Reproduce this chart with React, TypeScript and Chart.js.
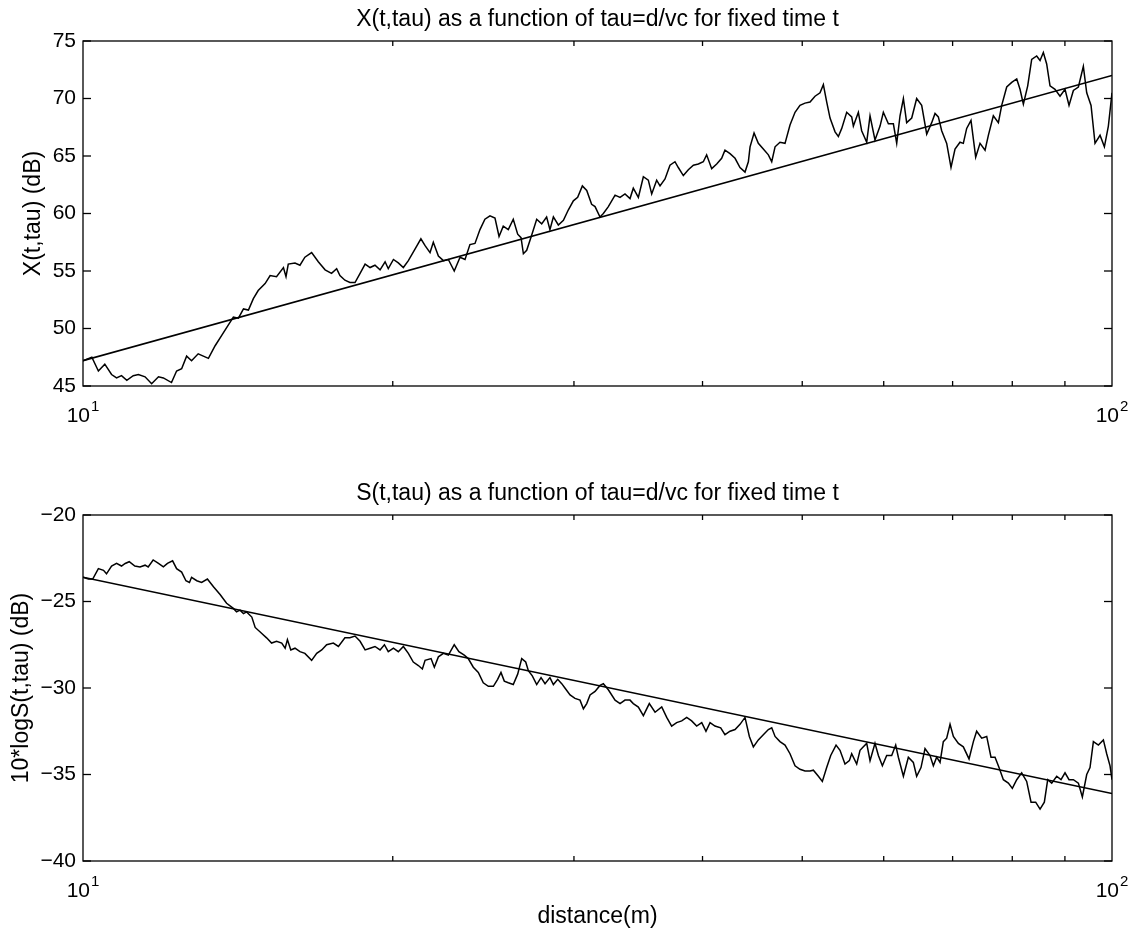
import React, { useEffect, useRef } from 'react';
import { Chart, registerables } from 'chart.js';

Chart.register(...registerables);

const FONT = '"Liberation Sans", Arial, Helvetica, sans-serif';

// X(t,tau) in dB versus distance d (m)
const xDistance = [
  10.0, 10.2, 10.35, 10.5, 10.66, 10.78, 10.9, 11.03, 11.19, 11.32, 11.49, 11.66, 11.84, 11.97, 12.19, 12.33,
  12.47, 12.61, 12.75, 12.94, 13.24, 13.44, 13.64, 13.84, 14.0, 14.16, 14.32, 14.48, 14.64, 14.8, 15.03, 15.2,
  15.42, 15.66, 15.75, 15.83, 16.07, 16.25, 16.43, 16.68, 16.93, 17.19, 17.44, 17.64, 17.77, 17.97, 18.17, 18.38,
  18.59, 18.8, 19.01, 19.22, 19.44, 19.66, 19.8, 20.03, 20.25, 20.48, 20.71, 21.02, 21.3, 21.5, 21.74, 21.9,
  22.15, 22.4, 22.65, 22.95, 23.25, 23.51, 23.77, 24.04, 24.31, 24.58, 24.86, 25.14, 25.37, 25.61, 25.9, 26.19,
  26.45, 26.65, 26.79, 26.99, 27.29, 27.6, 27.91, 28.22, 28.43, 28.65, 28.97, 29.3, 29.62, 29.96, 30.25, 30.57,
  30.87, 31.21, 31.45, 31.8, 32.04, 32.4, 32.89, 33.26, 33.63, 34.01, 34.26, 34.65, 35.04, 35.43, 35.7, 36.1,
  36.37, 36.78, 37.19, 37.61, 37.89, 38.32, 38.75, 39.19, 39.63, 40.07, 40.37, 40.83, 41.29, 41.75, 42.06, 42.54,
  43.02, 43.5, 43.99, 44.32, 44.49, 44.89, 45.32, 45.83, 46.35, 46.7, 47.05, 47.57, 48.11, 48.65, 49.2, 49.75,
  50.31, 50.88, 51.45, 52.03, 52.42, 52.81, 53.21, 53.81, 54.21, 54.62, 55.23, 55.85, 56.06, 56.69, 57.11, 57.76,
  58.19, 58.84, 59.51, 59.95, 60.63, 61.31, 61.77, 62.23, 62.7, 63.16, 63.88, 64.59, 65.32, 66.06, 66.8, 67.3,
  67.8, 68.31, 69.08, 69.75, 70.38, 71.17, 71.7, 72.24, 72.94, 73.71, 74.43, 75.27, 75.83, 76.68, 77.55, 78.13,
  79.01, 79.9, 80.8, 81.4, 82.01, 82.81, 83.55, 84.49, 85.13, 85.76, 86.4, 87.05, 88.03, 89.02, 90.02, 90.83,
  91.72, 92.75, 93.79, 94.5, 95.42, 96.27, 97.36, 98.31, 99.19, 100.0,
];
const xLevel = [
  47.2, 47.5, 46.3, 46.9, 46.0, 45.7, 45.9, 45.5, 45.9, 46.0, 45.8, 45.2, 45.8, 45.7, 45.3, 46.3,
  46.5, 47.6, 47.2, 47.8, 47.4, 48.5, 49.4, 50.3, 51.0, 50.9, 51.7, 51.6, 52.6, 53.3, 53.9, 54.6,
  54.5, 55.3, 54.5, 55.6, 55.7, 55.5, 56.2, 56.6, 55.8, 55.1, 54.8, 55.2, 54.6, 54.2, 54.0, 54.0,
  54.8, 55.6, 55.3, 55.5, 55.1, 55.8, 55.2, 56.0, 55.7, 55.3, 55.9, 56.9, 57.8, 57.2, 56.6, 57.5,
  56.3, 55.9, 56.0, 55.0, 56.2, 56.0, 57.3, 57.4, 58.6, 59.5, 59.8, 59.6, 58.0, 58.9, 58.6, 59.5,
  58.2, 57.9, 56.5, 56.8, 58.1, 59.5, 59.1, 59.7, 58.6, 59.7, 59.0, 59.4, 60.3, 61.1, 61.4, 62.4,
  62.0, 60.8, 60.6, 59.7, 60.0, 60.6, 61.6, 61.4, 61.7, 61.3, 62.2, 61.4, 63.2, 62.9, 61.7, 62.9,
  62.4, 63.0, 64.2, 64.5, 64.0, 63.3, 63.8, 64.2, 64.3, 64.5, 65.1, 63.9, 64.3, 64.8, 65.5, 65.2,
  64.8, 64.0, 63.6, 64.5, 65.8, 67.0, 66.1, 65.6, 65.1, 64.5, 65.8, 66.2, 66.1, 67.7, 68.8, 69.4,
  69.6, 69.7, 70.2, 70.5, 71.2, 69.7, 68.3, 67.1, 66.7, 67.4, 68.8, 68.4, 67.6, 68.8, 67.2, 66.2,
  68.5, 66.4, 67.6, 68.8, 67.8, 67.8, 66.1, 68.5, 70.0, 67.9, 68.3, 70.0, 69.4, 66.9, 67.9, 68.7,
  68.4, 67.2, 66.1, 64.0, 65.6, 66.2, 66.1, 67.4, 68.1, 64.9, 66.1, 65.5, 66.8, 68.5, 67.9, 69.4,
  71.0, 71.4, 71.7, 70.8, 69.5, 71.1, 73.4, 73.7, 73.3, 74.0, 73.0, 71.1, 70.8, 70.2, 70.8, 69.4,
  70.7, 71.0, 72.8, 70.5, 69.4, 66.1, 66.8, 65.8, 67.6, 70.5,
];

// 10*log S(t,tau) in dB versus distance d (m)
const sDistance = [
  10.0, 10.12, 10.22, 10.35, 10.47, 10.54, 10.66, 10.78, 10.9, 10.99, 11.09, 11.23, 11.36, 11.49, 11.57, 11.7,
  11.84, 11.97, 12.08, 12.22, 12.33, 12.47, 12.59, 12.69, 12.75, 12.9, 13.04, 13.21, 13.39, 13.59, 13.79, 14.0,
  14.1, 14.21, 14.32, 14.42, 14.59, 14.7, 14.92, 15.08, 15.25, 15.42, 15.6, 15.72, 15.8, 15.92, 16.07, 16.25,
  16.43, 16.68, 16.87, 17.06, 17.25, 17.51, 17.71, 17.97, 18.17, 18.38, 18.59, 18.8, 19.01, 19.22, 19.44, 19.63,
  19.8, 20.03, 20.25, 20.48, 20.71, 20.94, 21.18, 21.37, 21.5, 21.79, 21.95, 22.15, 22.4, 22.65, 22.95, 23.19,
  23.47, 23.68, 23.95, 24.22, 24.49, 24.77, 25.05, 25.29, 25.48, 25.67, 25.9, 26.19, 26.45, 26.69, 26.93, 27.09,
  27.33, 27.6, 27.87, 28.12, 28.43, 28.65, 28.93, 29.19, 29.4, 29.74, 30.07, 30.41, 30.64, 30.87, 31.1, 31.45,
  31.8, 32.04, 32.4, 32.89, 33.26, 33.63, 34.01, 34.26, 34.65, 35.04, 35.51, 35.97, 36.51, 36.92, 37.33, 37.75,
  38.18, 38.61, 39.04, 39.48, 39.93, 40.31, 40.68, 41.13, 41.66, 42.06, 42.54, 43.02, 43.5, 43.99, 44.42, 44.82,
  45.32, 45.83, 46.35, 46.7, 47.05, 47.57, 48.11, 48.65, 49.2, 49.75, 50.31, 50.88, 51.26, 51.84, 52.3, 52.81,
  53.29, 53.93, 54.41, 55.02, 55.56, 55.85, 56.48, 56.9, 57.33, 57.76, 58.19, 58.84, 59.29, 59.82, 60.4, 61.08,
  61.63, 62.0, 62.7, 63.4, 64.11, 64.59, 65.22, 65.81, 66.55, 67.05, 67.55, 68.06, 68.56, 69.08, 69.6, 70.12,
  70.91, 71.7, 72.62, 73.33, 73.87, 74.71, 75.55, 76.28, 76.97, 77.66, 78.42, 79.3, 80.01, 80.8, 81.7, 82.62,
  83.43, 84.3, 85.13, 85.95, 86.6, 87.38, 88.36, 89.22, 90.02, 90.83, 91.72, 92.75, 93.58, 94.5, 95.2, 95.92,
  97.0, 98.09, 98.82, 99.56, 100.0,
];
const sLevel = [
  -23.6, -23.7, -23.7, -23.1, -23.2, -23.4, -22.95, -22.8, -22.95, -22.8, -22.7, -22.95, -23.0, -22.9, -23.0, -22.6,
  -22.8, -23.0, -22.8, -22.65, -23.1, -23.3, -23.8, -23.9, -23.6, -23.8, -23.9, -23.7, -24.15, -24.6, -25.1, -25.4,
  -25.6, -25.5, -25.7, -25.6, -25.9, -26.5, -26.85, -27.1, -27.4, -27.3, -27.4, -27.7, -27.2, -27.8, -27.7, -27.9,
  -28.0, -28.4, -28.0, -27.8, -27.5, -27.4, -27.6, -27.1, -27.1, -27.0, -27.3, -27.8, -27.7, -27.6, -27.8, -27.5,
  -27.9, -27.7, -27.9, -27.6, -28.0, -28.5, -28.7, -28.9, -28.4, -28.3, -28.8, -28.2, -28.0, -28.1, -27.5, -27.9,
  -28.1, -28.3, -28.8, -29.1, -29.7, -29.9, -29.9, -29.5, -29.1, -29.6, -29.7, -29.8, -29.2, -28.3, -28.5, -29.0,
  -29.3, -29.8, -29.4, -29.75, -29.4, -29.8, -29.5, -29.75, -30.0, -30.4, -30.6, -30.7, -31.2, -30.9, -30.4, -30.2,
  -29.85, -29.75, -30.1, -30.7, -30.9, -30.7, -30.7, -30.9, -31.1, -31.6, -30.9, -31.4, -31.1, -31.7, -32.2, -32.0,
  -31.9, -31.7, -31.9, -32.2, -32.0, -32.5, -32.0, -32.2, -32.3, -32.7, -32.5, -32.4, -32.1, -31.7, -32.8, -33.4,
  -33.0, -32.7, -32.4, -32.3, -32.8, -33.1, -33.3, -33.8, -34.5, -34.7, -34.8, -34.8, -34.75, -35.1, -35.4, -34.6,
  -33.9, -33.3, -33.6, -34.4, -34.2, -33.8, -34.4, -33.6, -33.4, -33.2, -34.2, -33.2, -33.9, -34.5, -33.9, -33.9,
  -33.3, -34.0, -35.1, -34.0, -34.3, -35.1, -34.6, -33.5, -33.9, -34.5, -34.0, -34.3, -33.1, -32.9, -32.1, -32.8,
  -33.2, -33.4, -34.1, -33.1, -32.5, -32.9, -32.8, -34.0, -34.0, -34.6, -35.3, -35.5, -35.8, -35.3, -34.9, -35.4,
  -36.6, -36.6, -37.0, -36.6, -35.3, -35.5, -35.1, -35.3, -34.9, -35.3, -35.3, -35.5, -36.3, -35.0, -34.6, -33.1,
  -33.3, -33.0, -33.8, -34.5, -35.3,
];

// Least-squares fit lines (straight on the log distance axis)
const fitDistance = [10, 100];
const xFitLevel = [47.2, 72.0];
const sFitLevel = [-23.6, -36.1];

// Axis ranges and ticks
const distanceRange = [10, 100];
const decadeTicks = [10, 100];
const decadeExponents = ['1', '2'];
const minorDistanceTicks = [20, 30, 40, 50, 60, 70, 80, 90];
const xRange = [45, 75];
const sRange = [-40, -20];
const levelStep = 5;

const toPoints = (xs: number[], ys: number[]) => xs.map((x, i) => ({ x, y: ys[i] }));

const formatTick = (v: number) => (v < 0 ? '\u2212' + Math.abs(v) : String(v));

const framePlugin = {
  id: 'matlabFrame',
  afterDraw(chart: any, _args: any, opts: any) {
    const { ctx, chartArea: a, scales } = chart;
    const xs = scales.x;
    const ys = scales.y;
    ctx.save();
    ctx.strokeStyle = '#000';
    ctx.fillStyle = '#000';
    ctx.lineWidth = 1.3;

    const line = (x1: number, y1: number, x2: number, y2: number) => {
      ctx.beginPath();
      ctx.moveTo(x1, y1);
      ctx.lineTo(x2, y2);
      ctx.stroke();
    };

    // box
    ctx.strokeRect(a.left, a.top, a.right - a.left, a.bottom - a.top);

    // level ticks, inward on both sides
    for (const t of ys.ticks) {
      const y = ys.getPixelForValue(t.value);
      line(a.left, y, a.left + 8, y);
      line(a.right - 8, y, a.right, y);
    }

    // minor log ticks, inward on top and bottom
    for (const v of minorDistanceTicks) {
      const x = xs.getPixelForValue(v);
      line(x, a.bottom, x, a.bottom - 5);
      line(x, a.top, x, a.top + 5);
    }

    // decade labels 10^1, 10^2
    ctx.textBaseline = 'alphabetic';
    ctx.textAlign = 'left';
    decadeTicks.forEach((v, i) => {
      const x = xs.getPixelForValue(v);
      ctx.font = `21px ${FONT}`;
      const wBase = ctx.measureText('10').width;
      ctx.font = `15px ${FONT}`;
      const wExp = ctx.measureText(decadeExponents[i]).width;
      const start = x - (wBase + 1 + wExp) / 2;
      const base = a.bottom + 36;
      ctx.font = `21px ${FONT}`;
      ctx.fillText('10', start, base);
      ctx.font = `15px ${FONT}`;
      ctx.fillText(decadeExponents[i], start + wBase + 1, base - 11);
    });

    // title
    ctx.font = `23px ${FONT}`;
    ctx.textAlign = 'center';
    ctx.fillText(opts.title, (a.left + a.right) / 2, a.top - 15);

    // x-axis label
    if (opts.xLabel) {
      ctx.fillText(opts.xLabel, (a.left + a.right) / 2, a.bottom + 62);
    }

    // y-axis label
    ctx.save();
    ctx.translate(opts.yLabelX, (a.top + a.bottom) / 2);
    ctx.rotate(-Math.PI / 2);
    ctx.textBaseline = 'middle';
    ctx.fillText(opts.yLabel, 0, 0);
    ctx.restore();

    ctx.restore();
  },
};

function makeConfig(
  series: { x: number; y: number }[],
  fit: { x: number; y: number }[],
  range: number[],
  padding: { top: number; bottom: number },
  frame: { title: string; yLabel: string; yLabelX: number; xLabel?: string }
): any {
  return {
    type: 'line',
    data: {
      datasets: [
        {
          data: series,
          borderColor: '#000',
          borderWidth: 1.5,
          pointRadius: 0,
          tension: 0,
          fill: false,
        },
        {
          data: fit,
          borderColor: '#000',
          borderWidth: 1.6,
          pointRadius: 0,
          tension: 0,
          fill: false,
        },
      ],
    },
    options: {
      animation: false,
      responsive: false,
      maintainAspectRatio: false,
      parsing: false,
      events: [],
      layout: { padding: { left: 0, right: 23, top: padding.top, bottom: padding.bottom } },
      plugins: {
        legend: { display: false },
        tooltip: { enabled: false },
        title: { display: false },
        matlabFrame: frame,
      },
      scales: {
        x: {
          type: 'logarithmic',
          min: distanceRange[0],
          max: distanceRange[1],
          display: false,
        },
        y: {
          type: 'linear',
          min: range[0],
          max: range[1],
          afterFit: (scale: any) => {
            scale.width = 83;
          },
          border: { display: false },
          grid: { display: false, drawTicks: false },
          ticks: {
            stepSize: levelStep,
            autoSkip: false,
            padding: 7,
            color: '#000',
            font: { family: FONT, size: 21 },
            callback: (v: any) => formatTick(Number(v)),
          },
        },
      },
    },
    plugins: [framePlugin],
  };
}

export default function App() {
  const topRef = useRef<HTMLCanvasElement | null>(null);
  const bottomRef = useRef<HTMLCanvasElement | null>(null);

  useEffect(() => {
    if (!topRef.current || !bottomRef.current) return;
    const top = new Chart(
      topRef.current,
      makeConfig(
        toPoints(xDistance, xLevel),
        toPoints(fitDistance, xFitLevel),
        xRange,
        { top: 41, bottom: 64 },
        { title: 'X(t,tau) as a function of tau=d/vc for fixed time t', yLabel: 'X(t,tau) (dB)', yLabelX: 34 }
      )
    );
    const bottom = new Chart(
      bottomRef.current,
      makeConfig(
        toPoints(sDistance, sLevel),
        toPoints(fitDistance, sFitLevel),
        sRange,
        { top: 65, bottom: 71 },
        {
          title: 'S(t,tau) as a function of tau=d/vc for fixed time t',
          yLabel: '10*logS(t,tau) (dB)',
          yLabelX: 22,
          xLabel: 'distance(m)',
        }
      )
    );
    return () => {
      top.destroy();
      bottom.destroy();
    };
  }, []);

  return (
    <div style={{ position: 'absolute', left: 0, top: 0, width: 1135, height: 932, background: '#fff' }}>
      <canvas ref={topRef} width={1135} height={450} style={{ position: 'absolute', left: 0, top: 0 }} />
      <canvas ref={bottomRef} width={1135} height={482} style={{ position: 'absolute', left: 0, top: 450 }} />
    </div>
  );
}
